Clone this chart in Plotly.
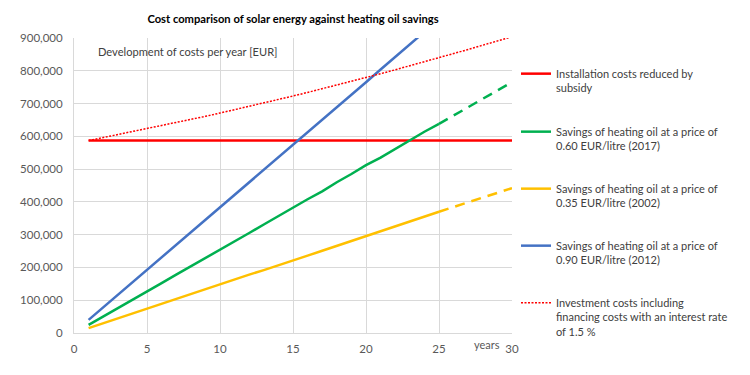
import plotly.graph_objects as go

years = list(range(1, 31))
solid_years = list(range(1, 26))
dash_years = list(range(25, 31))

installation = [587000] * 30

savings_060 = [25000, 50000, 76000, 101000, 127000, 152000, 178000, 203000, 229000, 254000,
               280000, 305000, 331000, 357000, 383000, 408000, 432000, 460000, 485000, 512000,
               535000, 562000, 587000, 614000, 638000, 664000, 689000, 714000, 740000, 765000]
savings_035 = [15000, 30000, 45000, 59000, 74000, 89000, 104000, 118000, 133000, 148000,
               163000, 178000, 192000, 206000, 222000, 236000, 251000, 266000, 280000, 295000,
               311000, 327000, 340000, 356000, 370000, 384000, 398000, 413000, 427000, 442000]
savings_090 = [40000, 78000, 116000, 155000, 193000, 231000, 269000, 308000, 346000, 384000,
               422000, 460000, 498000, 537000, 575000, 612000, 650000, 689000, 727000, 765000,
               804000, 842000, 880000, 918000, 957000, 995000, 1033000, 1071000, 1110000, 1148000]
investment = [587000, 596000, 605000, 614000, 623000, 633000, 642000, 652000, 661000, 671000,
              681000, 692000, 702000, 712000, 723000, 734000, 745000, 756000, 768000, 779000,
              791000, 803000, 815000, 827000, 839000, 852000, 865000, 878000, 891000, 904000]

names = ["Installation costs reduced by<br>subsidy",
         "Savings of heating oil at a price of<br>0.60 EUR/litre (2017)",
         "Savings of heating oil at a price of<br>0.35 EUR/litre (2002)",
         "Savings of heating oil at a price of<br>0.90 EUR/litre (2012)",
         "Investment costs including<br>financing costs with an interest rate<br>of 1.5 %"]

RED, GREEN, YELLOW, BLUE = "#ff0000", "#00b050", "#ffc000", "#4472c4"
FONT = "Lato, sans-serif"

# page body has an 8px margin, so the figure is laid out at 742x367
W, H, OFF = 742, 367, 8

fig = go.Figure()

def idx(ys):
    return [years.index(y) for y in ys]

fig.add_trace(go.Scatter(x=years, y=installation, mode="lines", name=names[0],
                         line=dict(color=RED, width=2.5), legend="legend"))
for vals, col, nm, lg in [(savings_060, GREEN, names[1], "legend2"),
                          (savings_035, YELLOW, names[2], "legend3"),
                          (savings_090, BLUE, names[3], "legend4")]:
    fig.add_trace(go.Scatter(x=solid_years, y=[vals[i] for i in idx(solid_years)], mode="lines",
                             name=nm, line=dict(color=col, width=2.5), legend=lg))
    fig.add_trace(go.Scatter(x=dash_years, y=[vals[i] for i in idx(dash_years)], mode="lines",
                             showlegend=False, line=dict(color=col, width=2.5, dash="10px,7px")))
fig.add_trace(go.Scatter(x=years, y=investment, mode="lines", name=names[4],
                         line=dict(color=RED, width=1.5, dash="2px,1.5px"), legend="legend5"))

leg_base = dict(xref="container", yref="container", xanchor="left", yanchor="top",
                valign="top", bgcolor="rgba(0,0,0,0)",
                font=dict(family=FONT, size=11, color="#404040"))
text_centers = [73, 131, 188, 245, 302]
for i, c in enumerate(text_centers):
    key = "legend" if i == 0 else f"legend{i+1}"
    top = c - OFF - 13
    fig.layout[key] = dict(leg_base, x=(516 - OFF) / W, y=1 - top / H)

fig.update_layout(
    width=W, height=H,
    margin=dict(l=74 - OFF, r=W - (512 - OFF), t=38 - OFF, b=H - (333 - OFF), autoexpand=False),
    paper_bgcolor="white", plot_bgcolor="white",
    title=dict(text="<b>Cost comparison of solar energy against heating oil savings</b>",
               x=(293 - OFF) / W, xanchor="center", y=1 - (19 - OFF) / H, yanchor="middle",
               font=dict(family=FONT, size=11.2, color="#000000")),
    xaxis=dict(range=[0, 30], tick0=0, dtick=5, showgrid=True, gridcolor="#d9d9d9",
               showline=True, linecolor="#d9d9d9", zeroline=False, ticks="",
               ticklabelstandoff=5,
               tickfont=dict(family=FONT, size=11.5, color="#595959")),
    yaxis=dict(range=[0, 900000], tick0=0, dtick=100000, tickformat=",d", showgrid=True,
               gridcolor="#d9d9d9", showline=True, linecolor="#d9d9d9", zeroline=False,
               ticks="", ticklabelstandoff=8,
               tickfont=dict(family=FONT, size=11.5, color="#595959")),
    annotations=[
        dict(text="Development of costs per year [EUR]", x=1.5, y=860000, xref="x", yref="y",
             xanchor="left", yanchor="middle", showarrow=False,
             font=dict(family=FONT, size=11.1, color="#404040")),
        dict(text="years", x=28.3, y=-0.04, xref="x", yref="paper", xanchor="center",
             yanchor="middle", showarrow=False,
             font=dict(family=FONT, size=11, color="#595959")),
    ],
)

fig.write_html("out.html")
